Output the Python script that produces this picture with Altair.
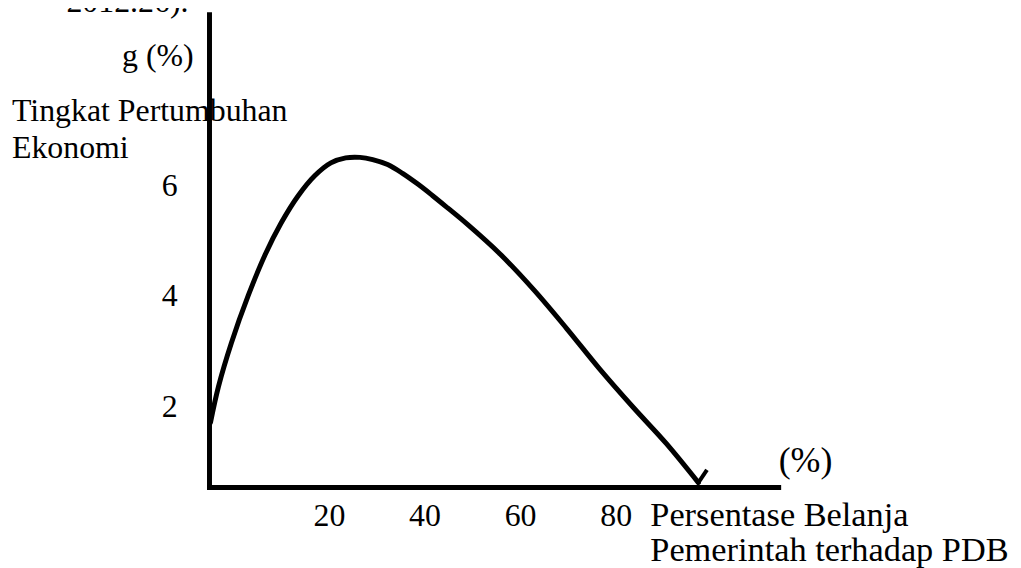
import altair as alt
import pandas as pd

# Curve
curve_x = [-4.79, -3.12, -0.42, 3.12, 6.66, 9.99, 13.53, 17.07, 20.40, 23.50,
           26.50, 29.15, 32.27, 35.40, 38.52, 41.64, 44.76, 48.93, 55.80, 62.88,
           69.75, 76.62, 83.70, 90.57, 97.30]
curve_y = [1.71, 2.36, 3.15, 4.01, 4.75, 5.32, 5.81, 6.18, 6.41, 6.50,
           6.51, 6.47, 6.38, 6.22, 6.03, 5.82, 5.60, 5.30, 4.76, 4.11,
           3.41, 2.68, 1.98, 1.33, 0.62]
# small hook at the end of the curve
hook_x = [97.30, 99.10]
hook_y = [0.62, 0.85]

x_ticks = [20, 40, 60, 80]
y_ticks = [2, 4, 6]

x_title = ["Persentase Belanja", "Pemerintah terhadap PDB"]
y_title = ["Tingkat Pertumbuhan", "Ekonomi"]

notes_right = ["g (%)", "2012.26)."]
notes_right_x = [-8.3, -9.4]
notes_right_y = [8.16, 9.15]
notes_left = ["(%)"]
notes_left_x = [114.1]
notes_left_y = [0.81]

FONT = "Liberation Serif"

curve_df = pd.DataFrame({"x": curve_x, "y": curve_y})
hook_df = pd.DataFrame({"x": hook_x, "y": hook_y})
nr_df = pd.DataFrame({"label": notes_right, "x": notes_right_x, "y": notes_right_y})
nl_df = pd.DataFrame({"label": notes_left, "x": notes_left_x, "y": notes_left_y})

xscale = alt.Scale(domain=[-5.1, 114], nice=False, zero=False)
yscale = alt.Scale(domain=[0.54, 9.10], nice=False, zero=False)

xaxis = alt.Axis(values=x_ticks, ticks=False, tickSize=0, grid=False,
                 domainWidth=5, domainColor="black", domainCap="square",
                 labelFont=FONT, labelFontSize=32, labelColor="black",
                 labelPadding=29, labelBaseline="middle", labelFlush=False,
                 title=x_title, titleX=443, titleY=39, titleAlign="left",
                 titleAnchor="start",
                 titleBaseline="alphabetic", titleAngle=0, titleFont=FONT,
                 titleFontSize=34.5, titleFontWeight="normal", titleColor="black",
                 titleLineHeight=35)
yaxis = alt.Axis(values=y_ticks, ticks=False, tickSize=0, grid=False,
                 domainWidth=5, domainColor="black", domainCap="square",
                 labelFont=FONT, labelFontSize=32, labelColor="black",
                 labelPadding=32, labelFlush=False,
                 title=y_title, titleX=-198.5, titleY=107, titleAlign="left",
                 titleAnchor="start",
                 titleBaseline="alphabetic", titleAngle=0, titleFont=FONT,
                 titleFontSize=32, titleFontWeight="normal", titleColor="black",
                 titleLineHeight=37)

curve = alt.Chart(curve_df).mark_line(
    color="black", strokeWidth=5, interpolate="catmull-rom", strokeCap="round"
).encode(
    x=alt.X("x:Q", scale=xscale, axis=xaxis),
    y=alt.Y("y:Q", scale=yscale, axis=yaxis),
)

hook = alt.Chart(hook_df).mark_line(color="black", strokeWidth=4).encode(
    x=alt.X("x:Q", scale=xscale), y=alt.Y("y:Q", scale=yscale)
)

txt_r = alt.Chart(nr_df).mark_text(
    font=FONT, fontSize=32, color="black", align="right", baseline="alphabetic"
).encode(x=alt.X("x:Q", scale=xscale), y=alt.Y("y:Q", scale=yscale), text="label:N")

txt_l = alt.Chart(nl_df).mark_text(
    font=FONT, fontSize=36, color="black", align="left", baseline="alphabetic"
).encode(x=alt.X("x:Q", scale=xscale), y=alt.Y("y:Q", scale=yscale), text="label:N")

chart = alt.layer(curve, hook, txt_r, txt_l).properties(
    width=572, height=475,
    padding={"left": 202, "top": 5, "right": 236, "bottom": 80},
    autosize="none",
    background="white",
).configure_view(stroke=None)

chart.save("out.html", embed_options={"renderer": "svg", "actions": False})
